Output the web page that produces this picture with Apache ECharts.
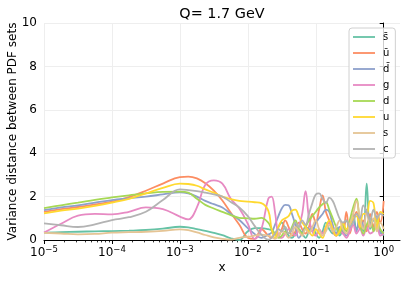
<!DOCTYPE html>
<html><head><meta charset="utf-8">
<script src="https://cdn.jsdelivr.net/npm/echarts@6/dist/echarts.min.js"></script>
<style>html,body{margin:0;padding:0;background:#fff}#c{width:407px;height:282px}</style>
</head><body><div id="c"></div>
<script>
const titleText = 'Q= 1.7 GeV';
const xName = 'x';
const yName = 'Variance distance between PDF sets';
const seriesNames = ['s\u0304', 'u\u0304', 'd\u0304', 'g', 'd', 'u', 's', 'c'];
const seriesColors = ['#66c2a5', '#fc8d62', '#8da0cb', '#e78ac3', '#a6d854', '#ffd92f', '#e5c494', '#b3b3b3'];
const xTickExponents = [-5, -4, -3, -2, -1, 0];
const yTicks = [0, 2, 4, 6, 8, 10];

const xValues = [1e-5, 1.78e-5, 3.16e-5, 5.62e-5, 1e-4, 1.78e-4, 3.16e-4, 5.62e-4, 1e-3, 1.33e-3, 1.78e-3, 2.37e-3, 3.16e-3, 4.22e-3, 5.62e-3, 7.5e-3, 1e-2, 1.26e-2, 1.58e-2, 2e-2,
  0.0224, 0.0251, 0.0282, 0.0316, 0.0355, 0.0398, 0.0447, 0.0501, 0.0562, 0.0631,
  0.0708, 0.0794, 0.0891, 0.1, 0.112, 0.126, 0.141, 0.158, 0.178, 0.2,
  0.224, 0.251, 0.282, 0.316, 0.355, 0.398, 0.447, 0.501, 0.562, 0.631,
  0.708, 0.794, 0.891, 1.0];

const sbar = [0.34,0.36,0.38,0.40,0.41,0.43,0.46,0.52,0.61,0.58,0.50,0.42,0.33,0.22,0.08,0.00,0.40,
  0.55,0.55,0.50,
  0.45,0.30,0.60,0.80,0.50,0.20,0.10,0.30,0.50,0.30, 0.10,0.40,0.60,0.30,0.10,0.40,0.80,0.50,0.30,0.60,
  0.20,0.50,0.90,0.60,1.20,0.50,0.90,0.40,2.60,0.50, 0.90,0.60,0.40,0.20];
const ubar = [1.30,1.42,1.52,1.64,1.77,1.98,2.27,2.60,2.90,2.92,2.84,2.62,2.28,1.82,1.25,0.70,0.10,
  0.05,0.50,0.20,
  0.10,0.30,0.20,0.50,0.90,0.60,0.20,0.40,0.80,0.50, 0.30,0.60,1.20,0.80,1.40,2.05,1.30,0.90,0.40,0.20,
  0.50,0.30,1.30,0.30,0.90,1.30,0.50,0.90,0.40,1.20, 0.60,1.30,0.80,1.80];
const dbar = [1.38,1.50,1.60,1.72,1.84,1.92,2.00,2.10,2.20,2.15,2.00,1.80,1.65,1.50,1.20,0.92,0.55,
  0.28,0.10,0.25,
  0.35,0.70,1.10,1.45,1.62,1.60,1.20,0.70,0.10,0.30, 0.60,0.50,0.40,0.80,1.00,1.20,1.40,1.30,0.70,0.30,
  0.60,0.40,0.20,0.50,0.90,0.40,1.10,0.60,1.40,0.80, 0.50,1.10,0.30,0.40];
const gluon = [0.34,0.75,1.12,1.20,1.18,1.30,1.50,1.42,1.08,0.95,1.50,2.55,2.75,2.60,1.90,1.45,0.75,
  0.05,0.50,1.90,
  2.00,1.30,0.20,0.10,0.30,0.50,0.40,0.20,0.60,1.20, 2.25,1.00,0.40,0.20,0.50,0.30,0.60,0.80,0.50,0.20,
  0.40,0.30,0.10,0.40,0.70,0.30,0.50,0.20,0.60,0.30, 0.40,0.70,0.20,0.30];
const dq = [1.47,1.60,1.72,1.85,1.96,2.06,2.15,2.22,2.23,2.18,1.90,1.62,1.45,1.30,1.15,1.02,1.00,
  0.98,1.02,0.80,
  0.50,0.30,0.10,0.20,0.40,0.30,0.60,0.90,0.50,0.30, 0.60,0.90,1.10,1.30,1.50,1.65,1.75,1.40,1.00,0.60,
  0.30,0.70,0.40,0.90,1.50,1.90,0.80,0.30,0.70,1.00, 0.40,0.90,0.50,0.30];
const uq = [1.23,1.35,1.45,1.57,1.72,1.90,2.15,2.40,2.60,2.58,2.50,2.33,2.18,2.00,1.88,1.80,1.77,
  1.74,1.70,1.35,
  0.50,0.10,0.60,0.90,1.00,1.10,1.35,1.40,1.10,0.80, 0.60,0.40,0.20,0.50,0.30,0.10,0.60,0.90,0.50,0.20,
  0.40,0.80,0.50,0.70,1.00,1.10,0.60,1.20,1.20,1.80, 1.70,0.50,1.30,1.20];
const sq = [0.33,0.30,0.26,0.28,0.34,0.36,0.38,0.42,0.49,0.45,0.35,0.23,0.12,0.05,0.02,0.10,0.15,
  0.20,0.25,0.20,
  0.15,0.05,0.20,0.40,0.30,0.10,0.30,0.60,0.40,0.20, 0.50,0.30,0.60,0.90,0.50,0.20,0.40,0.70,0.40,0.60,
  0.90,0.50,0.30,0.70,1.20,1.80,1.00,0.50,1.30,0.60, 1.00,0.40,0.80,0.50];
const cq = [0.77,0.68,0.60,0.72,0.92,1.05,1.30,1.84,2.33,2.30,2.25,2.18,2.10,2.00,1.75,1.50,1.10,
  0.65,0.25,0.02,
  0.10,0.30,0.50,0.40,0.60,0.30,0.50,0.80,0.60,0.90, 0.70,1.20,1.70,2.10,2.15,1.90,1.70,1.95,1.80,1.40,
  1.00,0.80,0.90,0.60,0.80,1.20,1.00,1.60,1.30,0.90, 1.40,1.00,1.20,1.10];

const seriesValues = [sbar, ubar, dbar, gluon, dq, uq, sq, cq];

const FONT = 'DejaVu Sans';
const minorTicks = [];
for (let n = -5; n < 0; n++) for (let k = 2; k <= 9; k++) minorTicks.push(n + Math.log10(k));

const chart = echarts.init(document.getElementById('c'), null, {renderer: 'canvas'});
const sup = e => (e < 0 ? '\u2212' + (-e) : '' + e);
chart.setOption({
  animation: false,
  backgroundColor: '#fff',
  title: {
    text: titleText, left: 222, top: 7, textAlign: 'center', padding: 0,
    textStyle: {fontFamily: FONT, fontSize: 14.4, fontWeight: 'normal', color: '#000'}
  },
  grid: {left: 44, right: 7, top: 23, bottom: 42, outerBoundsMode: 'none', containLabel: false},
  legend: {
    orient: 'vertical', left: 349, top: 28,
    icon: 'rect', itemWidth: 22, itemHeight: 1.8, itemGap: 4,
    padding: [3, 6, 3, 4],
    backgroundColor: 'rgba(255,255,255,0.8)', borderColor: '#d0d0d0', borderWidth: 1, borderRadius: 3,
    textStyle: {fontFamily: FONT, fontSize: 10, color: '#000', lineHeight: 12, padding: [0, 0, 0, 3]},
    data: seriesNames
  },
  xAxis: [{
    type: 'value', min: -5, max: 0.24, interval: 1,
    name: xName, nameLocation: 'middle', nameGap: 22, nameMoveOverlap: false,
    nameTextStyle: {fontFamily: FONT, fontSize: 12, color: '#000'},
    axisLine: {show: true, lineStyle: {color: '#000', width: 1}},
    axisTick: {show: true, length: 4, lineStyle: {color: '#000', width: 1}, customValues: xTickExponents},
    axisLabel: {
      customValues: xTickExponents, margin: 5, color: '#000',
      formatter: v => '{b|10}{e|' + sup(Math.round(v)) + '}',
      rich: {
        b: {fontFamily: FONT, fontSize: 12, color: '#000', lineHeight: 14, verticalAlign: 'bottom'},
        e: {fontFamily: FONT, fontSize: 8.5, color: '#000', lineHeight: 6, verticalAlign: 'top'}
      }
    },
    splitLine: {show: true, lineStyle: {color: '#eeeeee', width: 1}}
  }, {
    type: 'value', min: -5, max: 0.24, position: 'bottom',
    axisLine: {show: false},
    axisTick: {show: true, length: 2.4, lineStyle: {color: '#000', width: 0.8}, customValues: minorTicks},
    axisLabel: {show: false},
    splitLine: {show: false}
  }],
  yAxis: {
    type: 'value', min: 0, max: 10, interval: 2,
    name: yName, nameLocation: 'middle', nameGap: 25, nameMoveOverlap: false,
    nameTextStyle: {fontFamily: FONT, fontSize: 12, color: '#000'},
    axisLine: {show: true, lineStyle: {color: '#000', width: 1}},
    axisTick: {show: true, length: 4, lineStyle: {color: '#000', width: 1}},
    axisLabel: {fontFamily: FONT, fontSize: 12, color: '#000', margin: 7},
    splitLine: {show: true, lineStyle: {color: '#eeeeee', width: 1}}
  },
  series: seriesNames.map((name, i) => ({
    name, type: 'line', xAxisIndex: 0, symbol: 'none', smooth: 0.4,
    color: seriesColors[i],
    lineStyle: {color: seriesColors[i], width: 1.8},
    data: xValues.map((x, j) => [Math.log10(x), seriesValues[i][j]])
  }))
});
</script></body></html>
